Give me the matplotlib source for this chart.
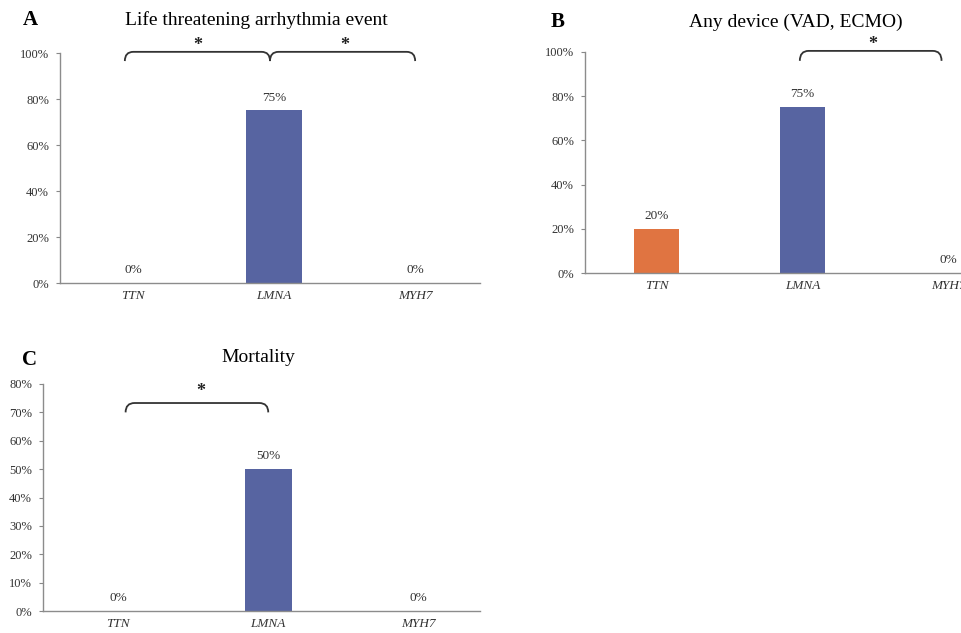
import matplotlib
matplotlib.use("Agg")
import matplotlib.pyplot as plt
from matplotlib.path import Path
from matplotlib.patches import PathPatch

genes = ["TTN", "LMNA", "MYH7"]
arrhythmia = [0, 75, 0]
device = [20, 75, 0]
mortality = [0, 50, 0]
gene_colors = ["#E07441", "#5764A1", "#A5A5A5"]

plt.rcParams['font.family'] = ['Liberation Serif', 'DejaVu Serif']

W, H = 962, 633
fig = plt.figure(figsize=(W / 100, H / 100), dpi=100)


def px_axes(left, right, top, bottom):
    return fig.add_axes([left / W, 1 - bottom / H, (right - left) / W, (bottom - top) / H])


def style(ax, ymax, step, xlim):
    ax.set_xlim(*xlim)
    ax.set_ylim(0, ymax)
    ax.set_yticks(range(0, ymax + 1, step))
    ax.set_yticklabels([f"{v}%" for v in range(0, ymax + 1, step)], fontsize=9, color="#333333")
    ax.set_xticks(range(len(genes)))
    ax.set_xticklabels(genes, fontsize=9.5, style="italic", color="#333333")
    ax.tick_params(axis="x", length=0, pad=5)
    ax.tick_params(axis="y", length=3, color="#888888", pad=5)
    for s in ["top", "right"]:
        ax.spines[s].set_visible(False)
    for s in ["left", "bottom"]:
        ax.spines[s].set_color("#8c8c8c")
        ax.spines[s].set_linewidth(1.0)


def draw_bars(ax, vals, width):
    x = list(range(len(vals)))
    ax.bar(x, vals, width=width, color=gene_colors, zorder=2)
    for xi, v in zip(x, vals):
        ax.annotate(f"{v}%", (xi, v), xytext=(0, 5), textcoords="offset points",
                    ha="center", va="bottom", fontsize=9.5, color="#333333")


def bracket(ax, x0, x1, ytop, ylow, mid=None):
    r = 0.06
    verts = [(x0, ylow), (x0, ytop), (x0 + r, ytop)]
    codes = [Path.MOVETO, Path.CURVE3, Path.CURVE3]
    if mid is not None:
        verts += [(mid - r, ytop), (mid, ytop), (mid, ylow),
                  (mid, ytop), (mid + r, ytop)]
        codes += [Path.LINETO, Path.CURVE3, Path.CURVE3, Path.CURVE3, Path.CURVE3]
    verts += [(x1 - r, ytop), (x1, ytop), (x1, ylow)]
    codes += [Path.LINETO, Path.CURVE3, Path.CURVE3]
    ax.add_patch(PathPatch(Path(verts, codes), fill=False, lw=1.3, color="#333333",
                           clip_on=False, zorder=3))


def star(ax, x, y):
    ax.text(x, y, "*", ha="center", va="center", fontsize=13, fontweight="bold",
            color="#222222", clip_on=False)


# Panel A
axA = px_axes(60, 480, 53, 283)
style(axA, 100, 20, (-0.52, 2.46))
draw_bars(axA, arrhythmia, 0.4)
bracket(axA, -0.06, 2.0, 100.5, 96.5, mid=0.97)
star(axA, 0.46, 103.3)
star(axA, 1.5, 103.3)
fig.text(23 / W, 1 - 20 / H, "A", fontsize=15, fontweight="bold", va="center", ha="left")
fig.text(256 / W, 1 - 20 / H, "Life threatening arrhythmia event", fontsize=14,
         va="center", ha="center")

# Panel B
axB = px_axes(585, 1000, 52, 273)
style(axB, 100, 20, (-0.49, 2.35))
draw_bars(axB, device, 0.31)
bracket(axB, 0.98, 1.95, 100.5, 96, mid=None)
star(axB, 1.48, 103.3)
fig.text(551 / W, 1 - 22 / H, "B", fontsize=15, fontweight="bold", va="center", ha="left")
fig.text(796 / W, 1 - 22 / H, "Any device (VAD, ECMO)", fontsize=14,
         va="center", ha="center")

# Panel C
axC = px_axes(43, 480, 384, 611)
style(axC, 80, 10, (-0.5, 2.41))
draw_bars(axC, mortality, 0.31)
bracket(axC, 0.05, 1.0, 73.3, 70.0, mid=None)
star(axC, 0.55, 77.3)
fig.text(22 / W, 1 - 360 / H, "C", fontsize=15, fontweight="bold", va="center", ha="left")
fig.text(258 / W, 1 - 357 / H, "Mortality", fontsize=14, va="center", ha="center")

fig.savefig("out.png", dpi=100)
